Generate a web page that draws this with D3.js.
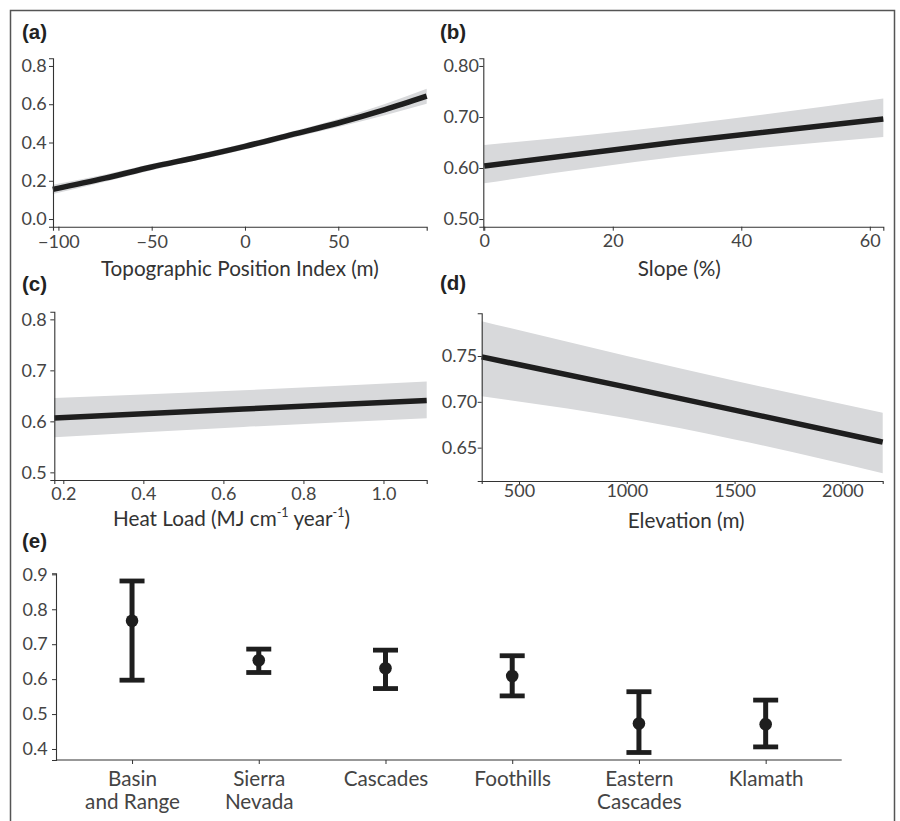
<!DOCTYPE html>
<html><head><meta charset="utf-8">
<script src="https://cdn.jsdelivr.net/npm/d3@7"></script>
<style>
html,body{margin:0;padding:0;background:#fff;}
svg{display:block;font-family:Lato,"Open Sans",sans-serif;}
</style></head><body>
<svg id="chart" width="900" height="821"></svg>
<script>
// ---- data ----
const tpiX    = [-103, -75, -50, -25, 0, 25, 50, 75, 97.4];
const tpiFit  = [0.155, 0.214, 0.272, 0.324, 0.380, 0.441, 0.502, 0.572, 0.642];
const tpiLo   = [0.131, 0.195, 0.255, 0.308, 0.364, 0.424, 0.481, 0.543, 0.603];
const tpiHi   = [0.179, 0.233, 0.289, 0.340, 0.396, 0.458, 0.523, 0.601, 0.681];
const tpiTicksX = [-100, -50, 0, 50];
const tpiTicksY = [0.0, 0.2, 0.4, 0.6, 0.8];

const slopeX   = [0, 30, 62.1];
const slopeFit = [0.604, 0.651, 0.696];
const slopeLo  = [0.570, 0.622, 0.661];
const slopeHi  = [0.645, 0.684, 0.736];
const slopeTicksX = [0, 20, 40, 60];
const slopeTicksY = [0.50, 0.60, 0.70, 0.80];

const heatX   = [0.1775, 0.65, 1.108];
const heatFit = [0.6065, 0.624, 0.641];
const heatLo  = [0.569, 0.589, 0.606];
const heatHi  = [0.646, 0.661, 0.678];
const heatTicksX = [0.2, 0.4, 0.6, 0.8, 1.0];
const heatTicksY = [0.5, 0.6, 0.7, 0.8];

const elevX   = [327, 1000, 1500, 2187];
const elevFit = [0.749, 0.716, 0.691, 0.656];
const elevLo  = [0.706, 0.682, 0.659, 0.622];
const elevHi  = [0.788, 0.750, 0.723, 0.688];
const elevTicksX = [500, 1000, 1500, 2000];
const elevTicksY = [0.65, 0.70, 0.75];

const regions    = ["Basin\nand Range", "Sierra\nNevada", "Cascades", "Foothills", "Eastern\nCascades", "Klamath"];
const regionMean = [0.767, 0.654, 0.631, 0.609, 0.473, 0.471];
const regionLo   = [0.597, 0.619, 0.573, 0.552, 0.390, 0.406];
const regionHi   = [0.881, 0.686, 0.683, 0.667, 0.564, 0.540];
const regionTicksY = [0.4, 0.5, 0.6, 0.7, 0.8, 0.9];

// ---- styling ----
const AX = "#333", TXT = "#444", TITLE = "#333", LINE = "#1e1e1e", RIB = "#d8d9db";
const tickFont = 18, titleFont = 20.7, labFont = 20.5, catFont = 20.7;
const LABFAM = "'Liberation Sans', Arial, sans-serif";

const svg = d3.select("#chart");

// outer frame
svg.append("path")
  .attr("d", "M10.5,830 L10.5,10.5 L894.5,10.5 L894.5,830")
  .attr("fill", "none").attr("stroke", "#555").attr("stroke-width", 1.5);

function styleAxis(g) {
  g.attr("font-family", "Lato, sans-serif");
  g.select(".domain").attr("stroke", AX).attr("stroke-width", 1.1);
  g.selectAll(".tick line").attr("stroke", AX).attr("stroke-width", 1);
  g.selectAll(".tick text").attr("fill", TXT).attr("font-size", tickFont)
    .attr("font-family", "Lato, sans-serif");
}

const minusFmt = d => (d < 0 ? "\u2212" : "") + Math.abs(d);

function panelLabel(txt, x, y) {
  svg.append("text").attr("x", x).attr("y", y).text(txt)
    .attr("font-weight", "bold").attr("font-size", labFont)
    .attr("font-family", LABFAM).attr("fill", "#222");
}

function linePanel(o) {
  const x = d3.scaleLinear().domain(o.xDom).range([o.x0, o.x1]);
  const y = d3.scaleLinear().domain(o.yDom).range([o.y1, o.y0]);
  const pts = o.xs.map((v, i) => ({x: v, f: o.fit[i], lo: o.lo[i], hi: o.hi[i]}));
  const curve = d3.curveMonotoneX;
  svg.append("path").datum(pts)
    .attr("d", d3.area().x(d => x(d.x)).y0(d => y(d.lo)).y1(d => y(d.hi)).curve(curve))
    .attr("fill", RIB);
  svg.append("path").datum(pts)
    .attr("d", d3.line().x(d => x(d.x)).y(d => y(d.f)).curve(curve))
    .attr("fill", "none").attr("stroke", LINE).attr("stroke-width", 5.5);
  const ga = svg.append("g").attr("transform", `translate(0,${o.y1})`)
    .call(d3.axisBottom(x).tickValues(o.ticksX).tickFormat(o.fmtX).tickSizeOuter(0)
      .tickSize(o.tickX == null ? 4 : o.tickX).tickPadding(o.padX));
  styleAxis(ga);
  const gb = svg.append("g").attr("transform", `translate(${o.x0},0)`)
    .call(d3.axisLeft(y).tickValues(o.ticksY).tickFormat(o.fmtY).tickSizeOuter(0).tickSize(4).tickPadding(o.padY));
  styleAxis(gb);
  panelLabel(o.lab, o.labX, o.labY);
  // axis title
  const t = svg.append("text").attr("x", (o.x0 + o.x1) / 2 + (o.titleDx || 0)).attr("y", o.titleY)
    .attr("text-anchor", "middle").attr("font-size", titleFont).attr("fill", TITLE);
  o.title.forEach(seg => {
    const ts = t.append("tspan").text(seg.t);
    if (seg.sup) ts.attr("font-size", 12.5).attr("dy", -8.5);
    else if (seg.after) ts.attr("dy", 8.5);
  });
}

linePanel({x0: 53, x1: 426.7, y0: 58.3, y1: 226.7, xDom: [-102.9, 97.4], yDom: [-0.04, 0.84],
  xs: tpiX, fit: tpiFit, lo: tpiLo, hi: tpiHi, ticksX: tpiTicksX, ticksY: tpiTicksY,
  fmtX: minusFmt, fmtY: d3.format(".1f"), padX: 4.2, padY: 2.3, lab: "(a)", labX: 22, labY: 38.5,
  title: [{t: "Topographic Position Index (m)"}], titleY: 275.5});

linePanel({x0: 483.3, x1: 883.3, y0: 58.3, y1: 226.7, xDom: [-0.15, 62.1], yDom: [0.485, 0.815],
  xs: slopeX, fit: slopeFit, lo: slopeLo, hi: slopeHi, ticksX: slopeTicksX, ticksY: slopeTicksY,
  fmtX: d3.format("d"), fmtY: d3.format(".2f"), padX: 3.2, padY: 0.3, lab: "(b)", labX: 440, labY: 38.5,
  title: [{t: "Slope (%)"}], titleY: 276, titleDx: -4});

linePanel({x0: 54.3, x1: 426.7, y0: 311.7, y1: 480, xDom: [0.1775, 1.108], yDom: [0.485, 0.815],
  xs: heatX, fit: heatFit, lo: heatLo, hi: heatHi, ticksX: heatTicksX, ticksY: heatTicksY,
  fmtX: d3.format(".1f"), fmtY: d3.format(".1f"), padX: 3.2, padY: 3.6, lab: "(c)", labX: 22, labY: 291,
  title: [{t: "Heat Load (MJ cm"}, {t: "-1", sup: true}, {t: " year", after: true}, {t: "-1", sup: true}, {t: ")", after: true}],
  titleY: 525.5, titleDx: -9});

linePanel({x0: 481.7, x1: 882.7, y0: 313.3, y1: 481, xDom: [327, 2187], yDom: [0.6136, 0.7966],
  xs: elevX, fit: elevFit, lo: elevLo, hi: elevHi, ticksX: elevTicksX, ticksY: elevTicksY,
  fmtX: d3.format("d"), fmtY: d3.format(".2f"), tickX: 3, padX: 0.5, padY: 0.4, lab: "(d)", labX: 440, labY: 290,
  title: [{t: "Elevation (m)"}], titleY: 527.5, titleDx: 4});

// ---- panel (e) ----
(function () {
  const x0 = 56, x1 = 841.7, y0 = 573.3, y1 = 760;
  const x = d3.scalePoint().domain(regions).range([x0, x1]).padding(0.6);
  const y = d3.scaleLinear().domain([0.3685, 0.903]).range([y1, y0]);
  const data = regions.map((r, i) => ({r, m: regionMean[i], lo: regionLo[i], hi: regionHi[i]}));
  const g = svg.append("g");
  const capW = 25;
  g.selectAll(".v").data(data).join("line")
    .attr("x1", d => x(d.r)).attr("x2", d => x(d.r))
    .attr("y1", d => y(d.lo)).attr("y2", d => y(d.hi))
    .attr("stroke", LINE).attr("stroke-width", 5);
  g.selectAll(".ct").data(data).join("line")
    .attr("x1", d => x(d.r) - capW / 2).attr("x2", d => x(d.r) + capW / 2)
    .attr("y1", d => y(d.hi)).attr("y2", d => y(d.hi))
    .attr("stroke", LINE).attr("stroke-width", 4.8);
  g.selectAll(".cb").data(data).join("line")
    .attr("x1", d => x(d.r) - capW / 2).attr("x2", d => x(d.r) + capW / 2)
    .attr("y1", d => y(d.lo)).attr("y2", d => y(d.lo))
    .attr("stroke", LINE).attr("stroke-width", 4.8);
  g.selectAll("circle").data(data).join("circle")
    .attr("cx", d => x(d.r)).attr("cy", d => y(d.m)).attr("r", 6.3).attr("fill", LINE);

  const ga = svg.append("g").attr("transform", `translate(0,${y1})`)
    .call(d3.axisBottom(x).tickSizeOuter(0).tickSize(4).tickFormat(""));
  styleAxis(ga);
  ga.selectAll(".domain").attr("d", `M${x0},0H${x1}`);
  ga.selectAll(".tick").each(function (d) {
    const t = d3.select(this).append("text").attr("fill", TXT).attr("font-size", catFont)
      .attr("text-anchor", "middle").attr("font-family", "Lato, sans-serif");
    d.split("\n").forEach((line, i) => {
      t.append("tspan").attr("x", 0).attr("y", 26 + i * 22.5).text(line);
    });
  });
  const gb = svg.append("g").attr("transform", `translate(${x0},0)`)
    .call(d3.axisLeft(y).tickValues(regionTicksY).tickFormat(d3.format(".1f")).tickSizeOuter(0).tickSize(4).tickPadding(4.3));
  styleAxis(gb);
  panelLabel("(e)", 22, 547.5);
})();
</script>
</body></html>
